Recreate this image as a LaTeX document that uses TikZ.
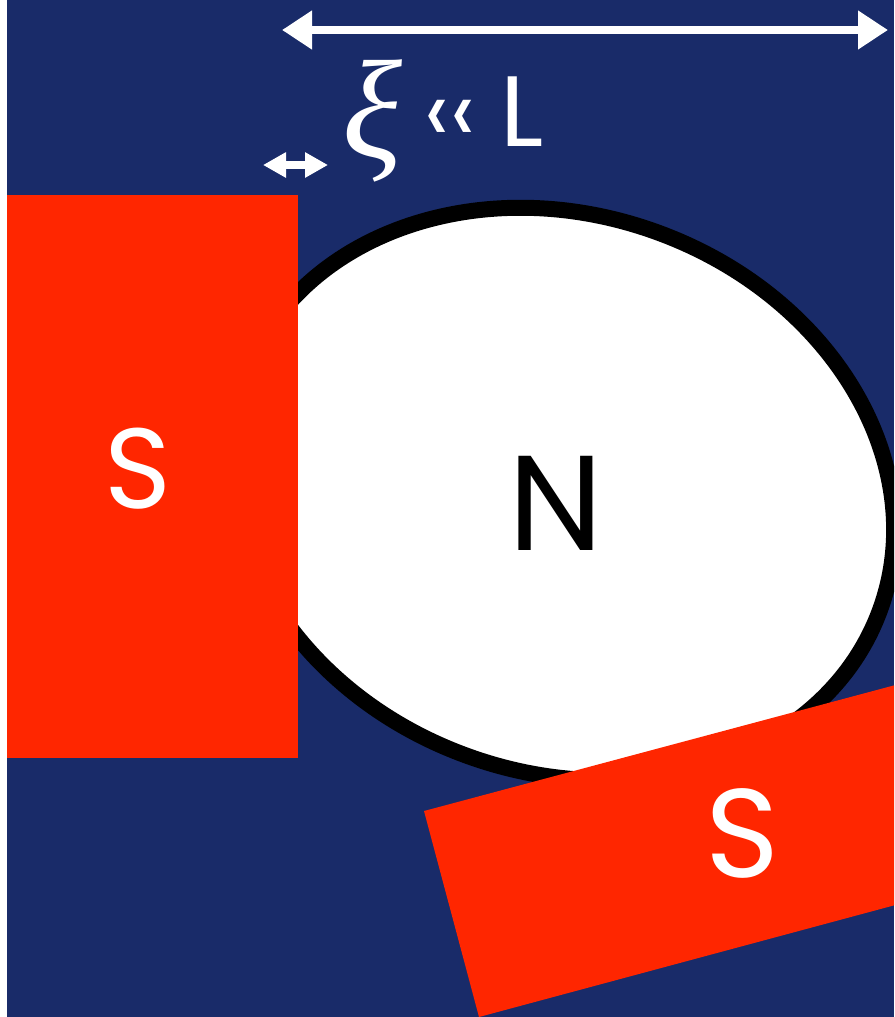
\documentclass[tikz,border=0pt]{standalone}
\usepackage{fontspec}
\setmainfont{Poppins}
\newfontfamily\xifont{Liberation Serif}
\usetikzlibrary{arrows.meta}

\definecolor{bgnavy}{RGB}{25,43,105}
\definecolor{polered}{RGB}{255,38,0}

\begin{document}
\begin{tikzpicture}[x=1pt, y=-1pt,
    pole/.style={fill=polered},
    lbl/.style={inner sep=0pt},
    bigarrow/.style={draw=white, line width=8pt, {Triangle[length=30pt,width=37pt]}-{Triangle[length=30pt,width=37pt]}},
    smallarrow/.style={draw=white, line width=8pt, {Triangle[length=23pt,width=24pt]}-{Triangle[length=23pt,width=24pt]}}]
  \useasboundingbox (0,0) rectangle (894,1017);
  \clip (0,0) rectangle (894,1017);
  \fill[bgnavy] (7,0) rectangle (894,1017);

  % normal region
  \draw[line width=16pt, fill=white, rotate around={-20:(562,494)}]
    (562,494) ellipse [x radius=338.5, y radius=278.5];
  \node[lbl, font=\fontsize{135}{135}\selectfont] (ncore) at (556,503) {N};

  % superconducting poles
  \fill[pole] (7,195) rectangle (298,758);
  \fill[pole] (424,811) -- (1004,656) -- (1059,861) -- (479,1017) -- cycle;
  \node[lbl, text=white, font=\fontsize{114}{114}\selectfont] (sleft) at (138,469) {S};
  \node[lbl, text=white, font=\fontsize{126}{126}\selectfont] (sright) at (742,833) {S};

  % length scales
  \coordinate (Lstart) at (282,30);
  \coordinate (Lend) at (888,30);
  \draw[bigarrow] (Lstart) -- (Lend);
  \coordinate (xistart) at (263,165);
  \coordinate (xiend) at (328,165);
  \draw[smallarrow] (xistart) -- (xiend);
  \node[lbl, text=white, font=\xifont\itshape\fontsize{140}{140}\selectfont] (xi) at (372,121) {ξ};
  \node[lbl, text=white, font=\fontsize{92}{92}\selectfont] (ll) at (450,122) {‹‹};
  \node[lbl, text=white, font=\fontsize{100}{100}\selectfont] (len) at (522,112) {L};
\end{tikzpicture}
\end{document}
